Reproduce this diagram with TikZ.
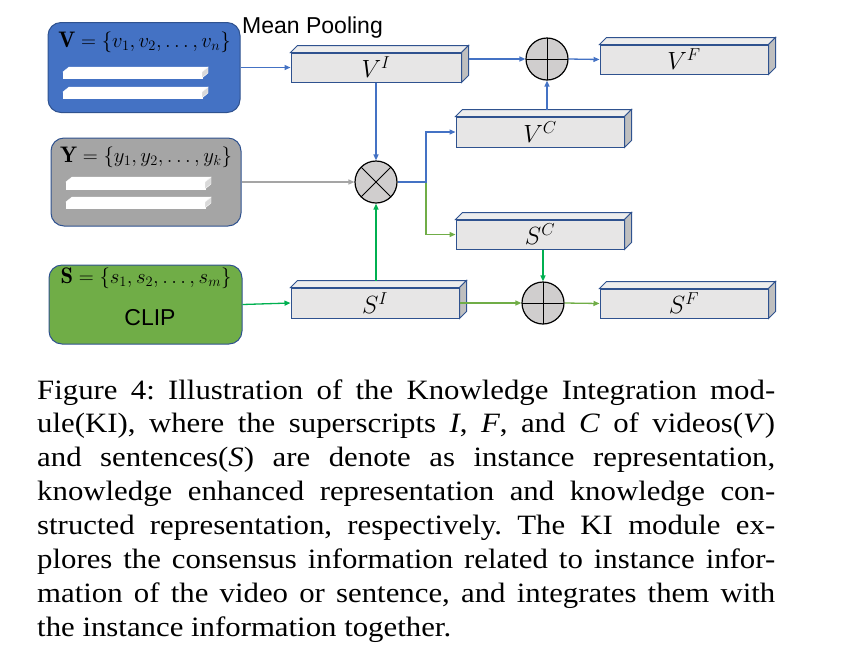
\documentclass[tikz,border=0pt]{standalone}
\usepackage{amsmath}
\usepackage{fontspec}
\usetikzlibrary{arrows.meta}
\newfontfamily\labelsans{Liberation Sans}
\newfontfamily\capfont[FakeStretch=1.1]{Liberation Serif}
\definecolor{inblue}{HTML}{4472C4}
\definecolor{ingray}{HTML}{A5A5A5}
\definecolor{ingreen}{HTML}{70AD47}
\definecolor{linegreen}{HTML}{00B050}
\definecolor{boxline}{HTML}{2F528F}
\definecolor{facefront}{HTML}{E7E6E6}
\definecolor{facetop}{HTML}{EDEDED}
\definecolor{faceside}{HTML}{BFBFBF}
\definecolor{opfill}{HTML}{D0CECE}
\begin{document}
\begin{tikzpicture}[
    x=1pt, y=-1pt,
    edge/.style={-{Triangle[length=6pt,width=5pt]}, line width=1.3pt},
    inbox/.style={rectangle, rounded corners=13pt, draw=boxline, line width=1pt},
    feat/.style={rectangle, draw=boxline, fill=facefront, line width=1pt, minimum width=168pt, minimum height=29pt, inner sep=0pt, font=\fontsize{24}{28}\selectfont},
    topface/.style={draw=boxline, fill=facetop, line width=1pt},
    sideface/.style={draw=boxline, fill=faceside, line width=1pt},
    bar/.style={fill=white, draw=white},
    barside/.style={fill=faceside!60, draw=white},
    setlabel/.style={inner sep=0pt, font=\fontsize{22.5}{26}\selectfont},
    opsym/.style={circle, draw, fill=opfill, line width=1.2pt, minimum size=42pt, inner sep=0pt},
    oplus/.style={opsym, path picture={\draw[line width=1pt] (path picture bounding box.north) -- (path picture bounding box.south) (path picture bounding box.west) -- (path picture bounding box.east);}},
    otimes/.style={opsym, path picture={\draw[line width=1pt] (path picture bounding box.north west) -- (path picture bounding box.south east) (path picture bounding box.north east) -- (path picture bounding box.south west);}},
    captext/.style={inner sep=0pt, text width=738pt, align=justify, font=\capfont\fontsize{28}{33.9}\selectfont\frenchspacing}
]
\useasboundingbox (0,0) rectangle (846,649);

% Inputs
\node[inbox, fill=inblue, minimum width=192pt, minimum height=90pt] (vin) at (144,67.5) {};
\node[inbox, fill=ingray, minimum width=190pt, minimum height=88pt] (yin) at (146,182) {};
\node[inbox, fill=ingreen, minimum width=193pt, minimum height=79pt] (sin) at (145.5,304.5) {};

% White bars inside the inputs
\foreach \bx/\by/\bh in {63/72/6, 63/92/6, 66/182/7, 66/202/6}{
  \filldraw[bar] (\bx,\by) -- ++(6,-5) -- ++(139,0) -- ++(-6,5) -- cycle;
  \filldraw[bar] (\bx,\by) rectangle ++(139,\bh);
  \filldraw[barside] (\bx+139,\by) -- ++(6,-5) -- ++(0,\bh) -- ++(-6,5) -- cycle;
}

\node[setlabel] (vlabel) at (144.5,42) {$\mathbf{V}=\{v_1,v_2,\dots,v_n\}$};
\node[setlabel] (ylabel) at (146,157) {$\mathbf{Y}=\{y_1,y_2,\dots,y_k\}$};
\node[setlabel] (slabel) at (146,278) {$\mathbf{S}=\{s_1,s_2,\dots,s_m\}$};
\node[inner sep=0pt, font=\labelsans\fontsize{23}{27}\selectfont] (clip) at (150,318) {CLIP};
\node[inner sep=0pt, anchor=base west, font=\labelsans\fontsize{23}{27}\selectfont] (pool) at (242,33) {Mean Pooling};

% Feature blocks
\node[feat, minimum width=170pt] (vi) at (376,67.5) {$V^{I}$};
\node[feat] (vf) at (684,59.5) {$V^{F}$};
\node[feat, minimum height=30pt] (vc) at (540,132) {$V^{C}$};
\node[feat] (sc) at (540,234.5) {$S^{C}$};
\node[feat, minimum height=30pt] (si) at (375,303) {$S^{I}$};
\node[feat] (sf) at (684,303.5) {$S^{F}$};

\foreach \n in {vi,vf,vc,sc,si,sf}{
  \filldraw[topface] (\n.north west) -- ++(7,-7) -- ([shift={(7,-7)}]\n.north east) -- (\n.north east) -- cycle;
  \filldraw[sideface] (\n.north east) -- ++(7,-7) -- ([shift={(7,-7)}]\n.south east) -- (\n.south east) -- cycle;
}

% Operators
\node[oplus] (optop) at (547,59) {};
\node[otimes] (mult) at (376,182) {};
\node[oplus] (opbot) at (543,303) {};
\coordinate (split) at (426,182);

% Connections
\draw[edge, inblue] (vin.east) -- (vi.west);
\draw[edge, ingray] (yin.east) -- (mult.west);
\draw[edge, linegreen] (sin.east) -- (si.west);
\draw[edge, inblue] (vi.south -| mult) -- (mult.north);
\draw[edge, linegreen] (si.north -| mult) ++(0,-7) -- (mult.south);
\draw[edge, ingreen] (mult.east) -- (split) |- (sc.west);
\draw[edge, inblue] (mult.east) -- (split) |- (vc.west);
\draw[edge, inblue] (vi.east |- optop) ++(7,0) -- (optop.west);
\draw[edge, inblue] (vc.north -| optop) ++(0,-7) -- (optop.south);
\draw[edge, inblue] (optop.east) -- (vf.west);
\draw[edge, linegreen] (sc.south -| opbot) -- (opbot.north);
\draw[edge, ingreen] (si.east) -- (opbot.west);
\draw[edge, ingreen] (opbot.east) -- (sf.west);

% Caption
\node[captext, anchor=base west] (caption) at (37,399) {%
\makebox[738pt][s]{Figure 4: Illustration of the Knowledge Integration mod-}\\
\makebox[738pt][s]{ule(KI), where the superscripts \textit{I}, \textit{F}, and \textit{C} of videos(\textit{V})}\\
\makebox[738pt][s]{and sentences(\textit{S}) are denote as instance representation,}\\
\makebox[738pt][s]{knowledge enhanced representation and knowledge con-}\\
\makebox[738pt][s]{structed representation, respectively. The KI module ex-}\\
\makebox[738pt][s]{plores the consensus information related to instance infor-}\\
\makebox[738pt][s]{mation of the video or sentence, and integrates them with}\\
the instance information together.};

\end{tikzpicture}
\end{document}
